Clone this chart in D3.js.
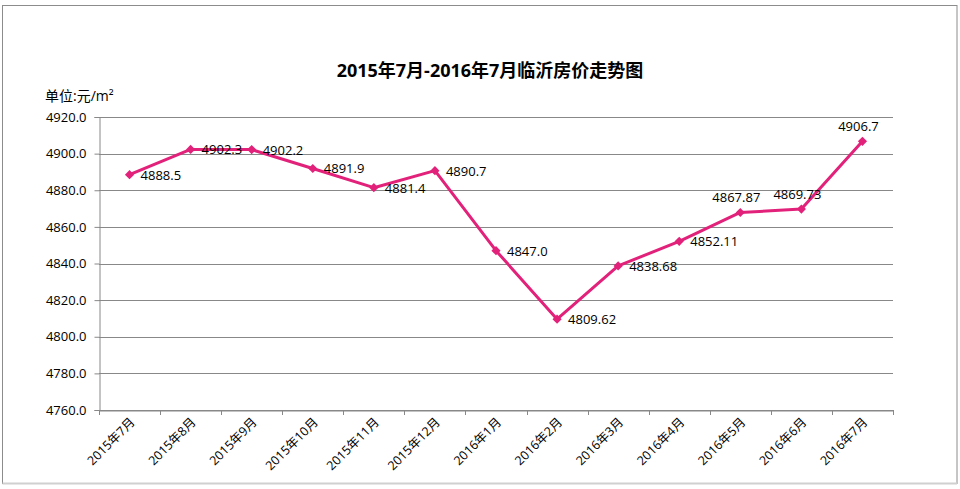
<!DOCTYPE html>
<html><head><meta charset="utf-8">
<script src="https://cdn.jsdelivr.net/npm/d3@7"></script>
<style>body{margin:0;background:#fff}svg{display:block}</style>
</head><body>
<script>
const categories = ["2015年7月","2015年8月","2015年9月","2015年10月","2015年11月","2015年12月","2016年1月","2016年2月","2016年3月","2016年4月","2016年5月","2016年6月","2016年7月"];
const values = [4888.5,4902.3,4902.2,4891.9,4881.4,4890.7,4847.0,4809.62,4838.68,4852.11,4867.87,4869.73,4906.7];
const valueLabels = ["4888.5","4902.3","4902.2","4891.9","4881.4","4890.7","4847.0","4809.62","4838.68","4852.11","4867.87","4869.73","4906.7"];
const labelSide = ["r","r","r","r","r","r","r","r","r","r","t","t","t"];
const yTicks = [4760,4780,4800,4820,4840,4860,4880,4900,4920];

const W = 960, H = 489;
const m = {l:99, r:893, t:117, b:410};
const font = "'Open Sans', 'Noto Sans CJK SC', sans-serif";
const svg = d3.select("body").append("svg").attr("width",W).attr("height",H);

svg.append("rect").attr("x",2.5).attr("y",5.5).attr("width",954.5).attr("height",478)
  .attr("fill","#fff").attr("stroke","#8c8c8c").attr("stroke-width",1);
svg.append("line").attr("x1",2.5).attr("x2",957).attr("y1",483.5).attr("y2",483.5).attr("stroke","#d0d0d0").attr("stroke-width",2);

const x = d3.scaleBand().domain(categories).range([m.l,m.r]);
const y = d3.scaleLinear().domain([4760,4920]).range([m.b,m.t]);

svg.append("g").selectAll("line").data(yTicks).join("line")
  .attr("x1",m.l).attr("x2",m.r)
  .attr("y1",d=>Math.round(y(d))+0.5).attr("y2",d=>Math.round(y(d))+0.5)
  .attr("stroke","#888").attr("stroke-width",1);

const ya = svg.append("g").attr("transform",`translate(${m.l+0.5},0)`)
  .call(d3.axisLeft(y).tickValues(yTicks).tickSize(5).tickFormat(d=>d3.format(".1f")(d)));
ya.select(".domain").attr("stroke","#888");
ya.selectAll(".tick line").attr("stroke","#888");
ya.selectAll(".tick text").attr("font-family",font).attr("font-size",13).attr("fill","#000").attr("x",-13);

const xa = svg.append("g").attr("transform",`translate(0,${m.b+0.5})`)
  .call(d3.axisBottom(x).tickSize(0).tickFormat(""));
xa.select(".domain").attr("stroke","#888");
const bounds = categories.map(c=>x(c)).concat([m.r]);
svg.append("g").selectAll("line").data(bounds).join("line")
  .attr("x1",d=>Math.round(d)+0.5).attr("x2",d=>Math.round(d)+0.5)
  .attr("y1",m.b).attr("y2",m.b+5).attr("stroke","#888");
svg.append("g").selectAll("text").data(categories).join("text")
  .attr("transform",c=>`translate(${x(c)+x.bandwidth()/2+6},${m.b+13}) rotate(-45)`)
  .attr("text-anchor","end").attr("font-family",font).attr("font-size",12.5).attr("fill","#000")
  .text(c=>c);

const pts = categories.map((c,i)=>({c,v:values[i],lab:valueLabels[i],side:labelSide[i]}));
const color = "#e2217a";
svg.append("path").datum(pts)
  .attr("d",d3.line().x(d=>x(d.c)+x.bandwidth()/2).y(d=>y(d.v)))
  .attr("fill","none").attr("stroke",color).attr("stroke-width",3).attr("stroke-linejoin","round");
svg.append("g").selectAll("path").data(pts).join("path")
  .attr("d",d3.symbol(d3.symbolSquare,42))
  .attr("transform",d=>`translate(${x(d.c)+x.bandwidth()/2},${y(d.v)}) rotate(45)`)
  .attr("fill",color);

svg.append("g").selectAll("text").data(pts).join("text")
  .attr("x",d=>x(d.c)+x.bandwidth()/2+(d.side==="r"?11:-4))
  .attr("y",d=>y(d.v)+(d.side==="r"?5:-10))
  .attr("text-anchor",d=>d.side==="r"?"start":"middle")
  .attr("font-family",font).attr("font-size",13).attr("fill","#000")
  .text(d=>d.lab);

svg.append("text").attr("x",490).attr("y",77).attr("text-anchor","middle")
  .attr("font-family","'Open Sans','Noto Sans CJK SC',sans-serif").attr("font-weight","bold").attr("font-size",18)
  .text("2015年7月-2016年7月临沂房价走势图");
svg.append("text").attr("x",45).attr("y",101)
  .attr("font-family","'Open Sans','Noto Sans CJK SC',sans-serif").attr("font-size",14)
  .text("单位:元/m²");
</script>
</body></html>
